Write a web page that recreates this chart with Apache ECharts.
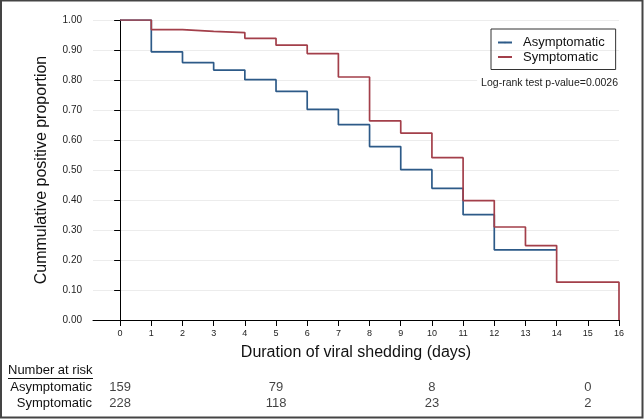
<!DOCTYPE html>
<html>
<head>
<meta charset="utf-8">
<script src="https://cdn.jsdelivr.net/npm/echarts@6/dist/echarts.min.js"></script>
<style>
html,body{margin:0;padding:0;background:#fff;}
#chart{width:644px;height:419px;}
</style>
</head>
<body>
<div id="chart"></div>
<script>
// ---- data ----
const xTicks = [0,1,2,3,4,5,6,7,8,9,10,11,12,13,14,15,16];
const asymTimes = [0,1,2,3,4,5,6,7,8,9,10,11,12,14];
const asymSurv  = [1.000,0.894,0.858,0.833,0.801,0.762,0.702,0.651,0.578,0.501,0.439,0.351,0.234,0.234];
const symTimes  = [0,1,2,3,4,5,6,7,8,9,10,11,12,13,14,16];
const symSurv   = [1.000,0.968,0.962,0.958,0.939,0.916,0.888,0.810,0.664,0.623,0.541,0.398,0.310,0.248,0.126,0.000];
const groups    = ['Asymptomatic','Symptomatic'];
const riskTimes = [0,5,10,15];
const riskAsym  = [159,79,8,0];
const riskSym   = [228,118,23,2];
const pText     = 'Log-rank test p-value=0.0026';

const FONT = '"Liberation Sans", Arial, Helvetica, sans-serif';
const BLUE = '#2d5a88';
const RED  = '#a33f4a';

const asymData = asymTimes.map((t,i)=>[t, asymSurv[i]]);
const symData  = symTimes.map((t,i)=>[t, symSurv[i]]);
const riskData = [];
riskTimes.forEach((t,i)=>{
  riskData.push([t, groups[0], riskAsym[i]]);
  riskData.push([t, groups[1], riskSym[i]]);
});

const chart = echarts.init(document.getElementById('chart'), null, {renderer:'canvas'});
chart.setOption({
  animation:false,
  backgroundColor:'#fff',
  textStyle:{fontFamily:FONT},
  grid:[
    {left:93, right:25, top:20, bottom:99, containLabel:false},
    {left:93, right:25, top:379, height:33, containLabel:false}
  ],
  xAxis:[
    {
      gridIndex:0, type:'value', min:-0.87, max:16,
      name:'Duration of viral shedding (days)', nameLocation:'middle', nameGap:25,
      nameTextStyle:{fontSize:16, color:'#111', fontFamily:FONT},
      axisLine:{show:true, lineStyle:{color:'#000', width:1}},
      axisTick:{show:true, length:6, customValues:xTicks, lineStyle:{color:'#000'}},
      axisLabel:{show:true, customValues:xTicks, fontSize:9, color:'#222', margin:9, fontFamily:FONT},
      splitLine:{show:false}
    },
    {
      gridIndex:1, type:'value', min:-0.87, max:16, show:false
    }
  ],
  yAxis:[
    {
      gridIndex:0, type:'value', min:0, max:1, interval:0.1,
      name:'Cummulative positive proportion', nameLocation:'middle', nameGap:43,
      nameTextStyle:{fontSize:16, color:'#111', fontFamily:FONT},
      axisLine:{show:true, lineStyle:{color:'#000', width:1}},
      axisTick:{show:true, length:6, lineStyle:{color:'#000'}},
      axisLabel:{fontSize:10, color:'#222', margin:11, fontFamily:FONT,
        formatter:v=>v.toFixed(2)},
      splitLine:{show:true, lineStyle:{color:'#ececec', width:1}}
    },
    {
      gridIndex:1, type:'category', data:groups, inverse:true,
      axisLine:{show:false}, axisTick:{show:false},
      axisLabel:{interval:0, fontSize:13, color:'#111', margin:1, fontFamily:FONT}
    }
  ],
  legend:{
    orient:'vertical', left:491, top:29,
    data:groups,
    itemWidth:14, itemHeight:2, itemGap:1.5,
    padding:[7,11,6,6],
    borderColor:'#333', borderWidth:1,
    textStyle:{fontSize:13, color:'#111', fontFamily:FONT, padding:[0,0,0,6]}
  },
  series:[
    {
      name:groups[0], type:'line', xAxisIndex:0, yAxisIndex:0,
      data:asymData, step:'end', symbol:'none',
      lineStyle:{color:BLUE, width:1.7}, itemStyle:{color:BLUE}, z:2
    },
    {
      name:groups[1], type:'line', xAxisIndex:0, yAxisIndex:0,
      data:symData, step:'end', symbol:'none',
      lineStyle:{color:RED, width:1.7}, itemStyle:{color:RED}, z:3
    },
    {
      type:'scatter', xAxisIndex:1, yAxisIndex:1,
      data:riskData, symbolSize:0, silent:true,
      encode:{x:0, y:1},
      label:{show:true, position:'inside', fontSize:13, color:'#111', fontFamily:FONT,
        formatter:p=>String(p.value[2])}
    }
  ],
  graphic:[
    {type:'text', right:23, top:75, z:10,
      style:{text:pText, fill:'#222', font:'10.5px '+FONT, backgroundColor:'#fff', padding:[3,3,2,4]}},
    {type:'text', left:8, top:364,
      style:{text:'Number at risk', fill:'#111', font:'13px '+FONT}},
    {type:'line', shape:{x1:8, y1:378.5, x2:93, y2:378.5}, style:{stroke:'#111', lineWidth:1}},
    {type:'rect', shape:{x:1, y:0.5, width:641.5, height:417}, style:{fill:'none', stroke:'#444', lineWidth:2}, silent:true}
  ]
});
</script>
</body>
</html>
